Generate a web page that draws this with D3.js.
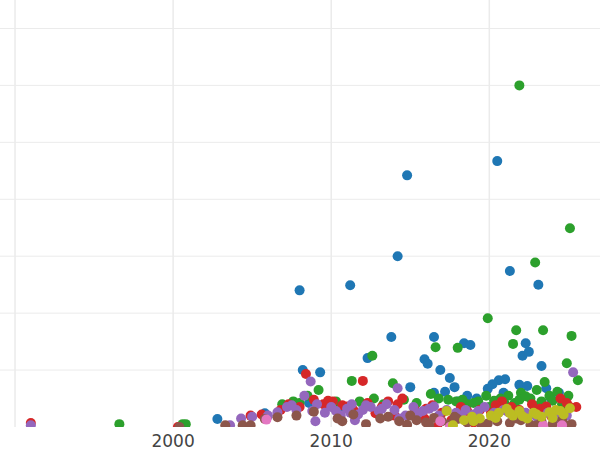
<!DOCTYPE html>
<html><head><meta charset="utf-8">
<script src="https://cdn.jsdelivr.net/npm/d3@7"></script>
<style>body{margin:0;background:#fff}</style></head>
<body><svg id="chart" width="600" height="450"></svg>
<script>
// [year, value]
const blue = [[2008.0,24.0],[2008.2,10.0],[2009.3,9.6],[2011.2,24.9],[2012.3,12.1],[2013.8,15.8],[2014.2,30.0],[2014.8,44.2],[2015.9,11.9],[2016.1,11.1],[2016.5,15.8],[2016.9,10.0],[2017.5,8.6],[2017.8,7.0],[2018.4,14.7],[2018.8,14.4],[2019.9,6.7],[2020.5,46.7],[2020.6,8.2],[2021.0,8.4],[2021.3,27.4],[2022.1,12.5],[2022.3,14.7],[2022.5,13.2],[2023.1,25.0],[2023.3,10.7],[2021.9,7.4],[2022.4,7.2],[2002.8,1.4],[2005.8,2.4],[2008.6,4.2],[2012.0,4.0],[2015.0,7.0],[2016.5,6.0],[2018.0,4.5],[2019.2,5.0],[2023.9,5.0],[2024.4,6.0],[2024.9,3.5],[2010.5,3.0],[2020.2,7.5],[2017.2,6.2],[2018.6,5.5],[2020.9,6.0],[2023.6,6.8]]
const green = [[2021.9,60.0],[2025.1,34.9],[2022.9,28.9],[2019.9,19.1],[2021.7,17.0],[2023.4,17.0],[2012.6,12.5],[2016.6,14.0],[2018.0,13.9],[2021.5,14.6],[2025.2,16.0],[2024.9,11.2],[2025.6,8.2],[2023.5,7.9],[2011.3,8.1],[2009.2,6.5],[2013.9,7.7],[1996.6,0.5],[2000.6,0.5],[2000.8,0.5],[2006.9,4.0],[2007.6,4.5],[2008.5,5.5],[2010.3,4.5],[2011.8,4.5],[2012.7,5.0],[2014.6,4.8],[2015.4,4.2],[2016.3,5.8],[2017.4,4.8],[2017.9,4.5],[2018.6,4.0],[2019.3,4.5],[2019.8,5.5],[2020.7,5.0],[2021.2,5.5],[2021.6,4.2],[2022.0,6.0],[2022.6,5.0],[2023.0,6.5],[2023.8,5.5],[2024.3,6.2],[2025.0,5.5],[2020.0,3.5],[2022.8,3.8],[2024.6,4.0],[2018.3,4.8],[2019.0,4.2],[2020.3,4.6],[2021.0,4.0],[2021.9,4.8],[2022.3,5.4],[2023.3,4.5],[2024.0,4.6],[2008.0,4.2],[2016.8,5.0],[2013.3,4.0]]
const red = [[2008.4,9.3],[2012.0,8.1],[1991.0,0.7],[2016.7,0.0],[2000.3,0.0],[2004.9,2.0],[2005.6,2.2],[2006.8,3.0],[2007.3,4.0],[2008.0,3.5],[2008.9,4.8],[2009.5,4.0],[2010.1,4.5],[2010.7,3.8],[2011.4,3.0],[2012.3,4.2],[2013.2,3.5],[2014.0,2.0],[2014.5,5.0],[2015.3,3.0],[2015.9,1.5],[2016.4,3.8],[2017.0,2.5],[2017.6,1.2],[2018.2,3.5],[2018.9,2.0],[2019.4,3.0],[2020.1,2.5],[2020.8,4.5],[2021.4,3.5],[2022.0,2.5],[2022.7,4.0],[2023.2,3.2],[2023.9,2.0],[2024.5,5.0],[2025.1,3.5],[2025.5,3.5],[2013.6,4.5],[2019.0,0.8],[2009.8,4.6],[2011.0,3.6],[2014.2,4.0],[2016.0,3.2],[2018.6,2.8],[2020.4,3.8],[2021.9,3.0],[2023.6,3.6],[2024.9,4.2],[2012.8,2.4]]
const purple = [[1991.0,0.3],[2008.7,8.0],[2014.2,6.8],[2025.3,9.6],[2003.6,0.3],[2004.3,1.5],[2005.0,1.8],[2005.9,1.5],[2006.6,2.6],[2007.2,3.5],[2007.8,3.0],[2008.3,5.5],[2008.8,2.8],[2009.1,4.0],[2009.6,2.5],[2010.0,3.5],[2010.6,2.0],[2011.0,3.2],[2011.3,4.0],[2011.7,2.2],[2012.0,3.0],[2012.5,3.5],[2013.0,2.8],[2013.5,4.0],[2014.0,3.0],[2014.7,2.0],[2015.2,3.5],[2015.8,2.8],[2016.2,3.2],[2016.8,2.0],[2017.3,3.0],[2017.9,2.5],[2018.5,3.0],[2019.0,2.2],[2019.7,3.5],[2020.3,2.5],[2020.9,3.0],[2021.6,2.0],[2022.3,2.5],[2023.0,1.8],[2023.7,2.5],[2024.3,1.5],[2024.9,2.0],[2009.0,1.0],[2011.5,1.2],[2014.3,1.5],[2007.5,3.8],[2010.3,2.8],[2011.2,2.5],[2012.2,3.8],[2013.2,3.2],[2015.5,2.4],[2016.5,3.6],[2018.2,2.0],[2019.3,2.8],[2021.2,2.6],[2022.7,2.2],[2006.0,2.0]]
const brown = [[2000.4,0.0],[2003.3,0.3],[2004.4,0.3],[2004.9,0.3],[2005.8,1.4],[2006.6,1.7],[2008.9,2.7],[2010.7,1.0],[2011.4,2.2],[2012.2,0.5],[2013.1,1.5],[2014.3,1.0],[2014.8,0.4],[2015.4,1.2],[2016.0,0.8],[2016.5,1.6],[2017.0,1.0],[2017.5,0.5],[2018.0,1.4],[2018.6,0.8],[2019.2,1.2],[2019.9,0.6],[2020.5,1.0],[2021.3,0.7],[2022.0,1.2],[2022.6,0.4],[2023.3,1.0],[2024.0,0.5],[2024.6,1.2],[2025.2,0.5],[2007.8,2.0],[2010.4,1.5],[2013.6,1.8],[2015.0,2.0],[2016.2,0.3],[2017.8,1.8],[2019.5,0.3],[2021.7,1.5],[2023.0,0.3],[2024.9,0.2]]
const pink = [[2005.9,1.3],[2016.9,1.0],[2023.4,0.3],[2024.6,0.3],[2017.5,0.0]]
const olive = [[2017.3,2.8],[2017.7,0.3],[2018.4,1.2],[2018.9,1.8],[2019.4,1.5],[2020.1,2.0],[2020.6,2.5],[2021.1,3.2],[2021.5,2.0],[2021.9,2.8],[2022.4,1.5],[2022.8,2.5],[2023.3,1.8],[2023.8,2.6],[2024.2,3.0],[2024.7,2.2],[2025.1,3.3],[2019.0,1.0],[2020.4,1.6],[2021.3,2.4],[2022.1,1.9],[2023.0,2.2],[2024.0,1.6],[2024.5,2.8]]
const xTicks = [2000, 2010, 2020]
const xGrid = [1990, 2000, 2010, 2020]
const yGrid = [10, 20, 30, 40, 50, 60, 70]

const series = [
  { data: blue, color: '#1f77b4' },
  { data: green, color: '#2ca02c' },
  { data: red, color: '#d62728' },
  { data: purple, color: '#9467bd' },
  { data: brown, color: '#8c564b' },
  { data: pink, color: '#e377c2' },
  { data: olive, color: '#bcbd22' }
]

const W = 600, H = 427
const x = d3.scaleLinear().domain([1989.05, 2027]).range([0, W])
const y = d3.scaleLinear().domain([0, 75]).range([H, 0])

const svg = d3.select('#chart')
svg.append('clipPath').attr('id', 'clip')
  .append('rect').attr('width', W).attr('height', H)

svg.selectAll('.vg').data(xGrid).enter().append('line')
  .attr('x1', d => x(d)).attr('x2', d => x(d)).attr('y1', 0).attr('y2', H)
  .attr('stroke', '#ebebeb').attr('stroke-width', 1.5)
svg.selectAll('.hg').data(yGrid).enter().append('line')
  .attr('x1', 0).attr('x2', W).attr('y1', d => y(d)).attr('y2', d => y(d))
  .attr('stroke', '#ebebeb').attr('stroke-width', 1)

const g = svg.append('g').attr('clip-path', 'url(#clip)')
series.forEach(s => {
  g.selectAll(null).data(s.data).enter().append('circle')
    .attr('cx', d => x(d[0])).attr('cy', d => y(d[1]))
    .attr('r', 5).attr('fill', s.color)
})

svg.selectAll('.xt').data(xTicks).enter().append('text')
  .attr('x', d => x(d)).attr('y', 447)
  .attr('text-anchor', 'middle')
  .attr('font-family', 'DejaVu Sans').attr('font-size', 17)
  .attr('fill', '#444').text(d => d)
</script></body></html>
